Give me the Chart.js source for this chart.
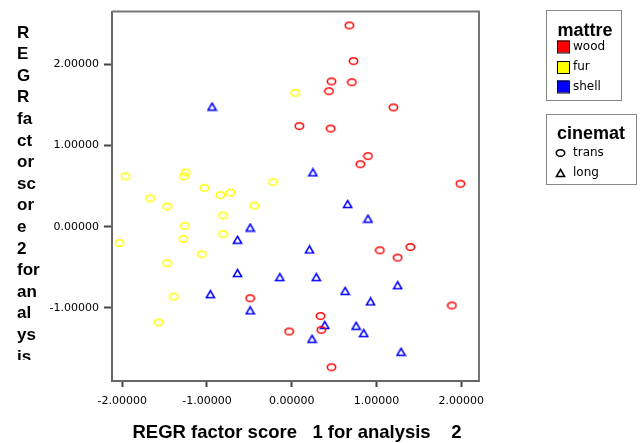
<!DOCTYPE html>
<html>
<head>
<meta charset="utf-8">
<script src="https://cdn.jsdelivr.net/npm/chart.js@4.4.1/dist/chart.umd.min.js"></script>
<style>
  html, body { margin: 0; padding: 0; background: #fff; }
</style>
</head>
<body>
<canvas id="scoreChart" width="643" height="443"></canvas>
<script>
// factor scores per material (mattre)
const woodX = [0.68, 0.73, 0.47, 0.71, 0.44, 1.20, 0.09, 0.46, 0.90, 0.81, 1.99, 1.04, 1.40, 1.25, 1.89, 0.34, 0.35, 0.47, -0.49, -0.03];
const woodY = [2.48, 2.04, 1.79, 1.78, 1.67, 1.47, 1.24, 1.21, 0.87, 0.77, 0.53, -0.29, -0.25, -0.38, -0.97, -1.10, -1.27, -1.73, -0.88, -1.29];

const furX = [0.04, -1.96, -1.25, -1.27, -0.22, -1.03, -0.84, -0.72, -1.67, -1.47, -0.44, -0.81, -1.26, -1.28, -0.81, -2.03, -1.06, -1.47, -1.39, -1.57];
const furY = [1.65, 0.62, 0.67, 0.62, 0.55, 0.48, 0.39, 0.42, 0.35, 0.25, 0.26, 0.14, 0.01, -0.15, -0.09, -0.20, -0.34, -0.45, -0.86, -1.18];

const shellX = [-0.94, 0.25, 0.66, 0.90, -0.49, -0.64, 0.21, -0.64, -0.14, 0.29, 1.25, 0.63, -0.96, 0.93, -0.49, 0.39, 0.76, 0.85, 0.24, 1.29];
const shellY = [1.48, 0.67, 0.28, 0.10, -0.01, -0.16, -0.28, -0.57, -0.62, -0.62, -0.72, -0.79, -0.83, -0.92, -1.03, -1.21, -1.22, -1.31, -1.38, -1.54];

const xTicks = [-2, -1, 0, 1, 2];
const yTicks = [-1, 0, 1, 2];

const xTitle = "REGR factor score   1 for analysis    2";
const yTitleLines = ["R", "E", "G", "R", "fa", "ct", "or", "sc", "or", "e", "2", "for", "an", "al", "ys", "is"];

const matterTitle = "mattre";
const matterLabels = ["wood", "fur", "shell"];
const matterColors = ["#ff0000", "#ffff00", "#0000ff"];
const cinematTitle = "cinemat";
const cinematLabels = ["trans", "long"];

const toPoints = (xs, ys) => xs.map((x, i) => ({ x: x, y: ys[i] }));

// small marker images, like the spss ones
const makeMarker = (shape, color) => {
  const c = document.createElement("canvas");
  c.width = 11;
  c.height = 10;
  const g = c.getContext("2d");
  g.strokeStyle = color;
  g.lineWidth = 1.5;
  g.beginPath();
  if (shape === "circle") {
    g.ellipse(5.5, 5, 4.2, 3.3, 0, 0, Math.PI * 2);
  } else {
    g.moveTo(5.5, 1.5);
    g.lineTo(9.6, 8.6);
    g.lineTo(1.4, 8.6);
    g.closePath();
  }
  g.stroke();
  return c;
};

const tickFont = { family: "'DejaVu Sans', sans-serif", size: 11 };

const framePlugin = {
  id: "frame",
  afterDraw(chart) {
    const { ctx, chartArea } = chart;
    ctx.save();
    ctx.strokeStyle = "#777";
    ctx.lineWidth = 2;
    ctx.beginPath();
    ctx.moveTo(chartArea.left, chartArea.top);
    ctx.lineTo(chartArea.right, chartArea.top);
    ctx.lineTo(chartArea.right, chartArea.bottom);
    ctx.stroke();
    ctx.restore();
  }
};

const titlesPlugin = {
  id: "titles",
  afterDraw(chart) {
    const ctx = chart.ctx;
    ctx.save();
    ctx.fillStyle = "#000";
    ctx.font = "bold 18.5px 'Liberation Sans', Arial, sans-serif";
    ctx.textAlign = "center";
    ctx.textBaseline = "middle";
    ctx.fillText(xTitle, 297, 433);

    // stacked y title, cut off at the bottom like the original
    ctx.beginPath();
    ctx.rect(0, 0, 100, 360);
    ctx.clip();
    ctx.font = "bold 17px 'Liberation Sans', Arial, sans-serif";
    ctx.textAlign = "left";
    for (let i = 0; i < yTitleLines.length; i++) {
      ctx.fillText(yTitleLines[i], 17, 33 + i * 21.6);
    }
    ctx.restore();
  }
};

const legendPlugin = {
  id: "twoLegends",
  afterDraw(chart) {
    const ctx = chart.ctx;
    ctx.save();
    ctx.strokeStyle = "#888";
    ctx.lineWidth = 1;
    ctx.strokeRect(546.5, 10.5, 75, 90);
    ctx.strokeRect(546.5, 114.5, 90, 70);

    ctx.fillStyle = "#000";
    ctx.textBaseline = "middle";
    ctx.textAlign = "center";
    ctx.font = "bold 18px 'Liberation Sans', Arial, sans-serif";
    ctx.fillText(matterTitle, 585, 31);
    ctx.fillText(cinematTitle, 591, 134);

    ctx.textAlign = "left";
    ctx.font = "12px 'DejaVu Sans', sans-serif";
    const rowY = [46.5, 67, 86.5];
    for (let i = 0; i < matterLabels.length; i++) {
      ctx.fillStyle = matterColors[i];
      ctx.fillRect(557, rowY[i] - 6, 12, 12);
      ctx.strokeStyle = "#000";
      ctx.strokeRect(557.5, rowY[i] - 5.5, 12, 12);
      ctx.fillStyle = "#000";
      ctx.fillText(matterLabels[i], 573, rowY[i]);
    }

    const shapeY = [153, 173];
    const shapes = ["circle", "triangle"];
    for (let i = 0; i < cinematLabels.length; i++) {
      const m = makeMarker(shapes[i], "#000");
      ctx.drawImage(m, 555, shapeY[i] - 5);
      ctx.fillText(cinematLabels[i], 573, shapeY[i]);
    }
    ctx.restore();
  }
};

const ctx = document.getElementById("scoreChart").getContext("2d");
const chart = new Chart(ctx, {
  type: "scatter",
  data: {
    datasets: [
      {
        label: "wood",
        data: toPoints(woodX, woodY),
        pointStyle: makeMarker("circle", "#ff0000"),
      },
      {
        label: "fur",
        data: toPoints(furX, furY),
        pointStyle: makeMarker("circle", "#ffff00"),
      },
      {
        label: "shell",
        data: toPoints(shellX, shellY),
        pointStyle: makeMarker("triangle", "#0000ff"),
      },
    ],
  },
  options: {
    responsive: false,
    animation: false,
    devicePixelRatio: 1,
    layout: {
      padding: { left: 0, right: 164, top: 11, bottom: 0 },
    },
    plugins: {
      legend: { display: false },
      tooltip: { enabled: false },
    },
    scales: {
      x: {
        type: "linear",
        min: -2.12,
        max: 2.21,
        afterBuildTicks: (s) => { s.ticks = xTicks.map((v) => ({ value: v })); },
        afterFit: (s) => { s.height = 62; },
        grid: { drawOnChartArea: false, drawTicks: true, tickLength: 6, tickWidth: 2, tickColor: "#444" },
        border: { color: "#666", width: 2 },
        ticks: {
          font: tickFont,
          color: "#000",
          padding: 8,
          maxRotation: 0,
          autoSkip: false,
          callback: (v) => Number(v).toFixed(5),
        },
      },
      y: {
        type: "linear",
        min: -1.90,
        max: 2.65,
        afterBuildTicks: (s) => { s.ticks = yTicks.map((v) => ({ value: v })); },
        afterFit: (s) => { s.width = 112; },
        grid: { drawOnChartArea: false, drawTicks: true, tickLength: 8, tickWidth: 2, tickColor: "#444" },
        border: { color: "#666", width: 2 },
        ticks: {
          font: tickFont,
          color: "#000",
          padding: 5,
          callback: (v) => Number(v).toFixed(5),
        },
      },
    },
  },
  plugins: [framePlugin, titlesPlugin, legendPlugin],
});
</script>
</body>
</html>
